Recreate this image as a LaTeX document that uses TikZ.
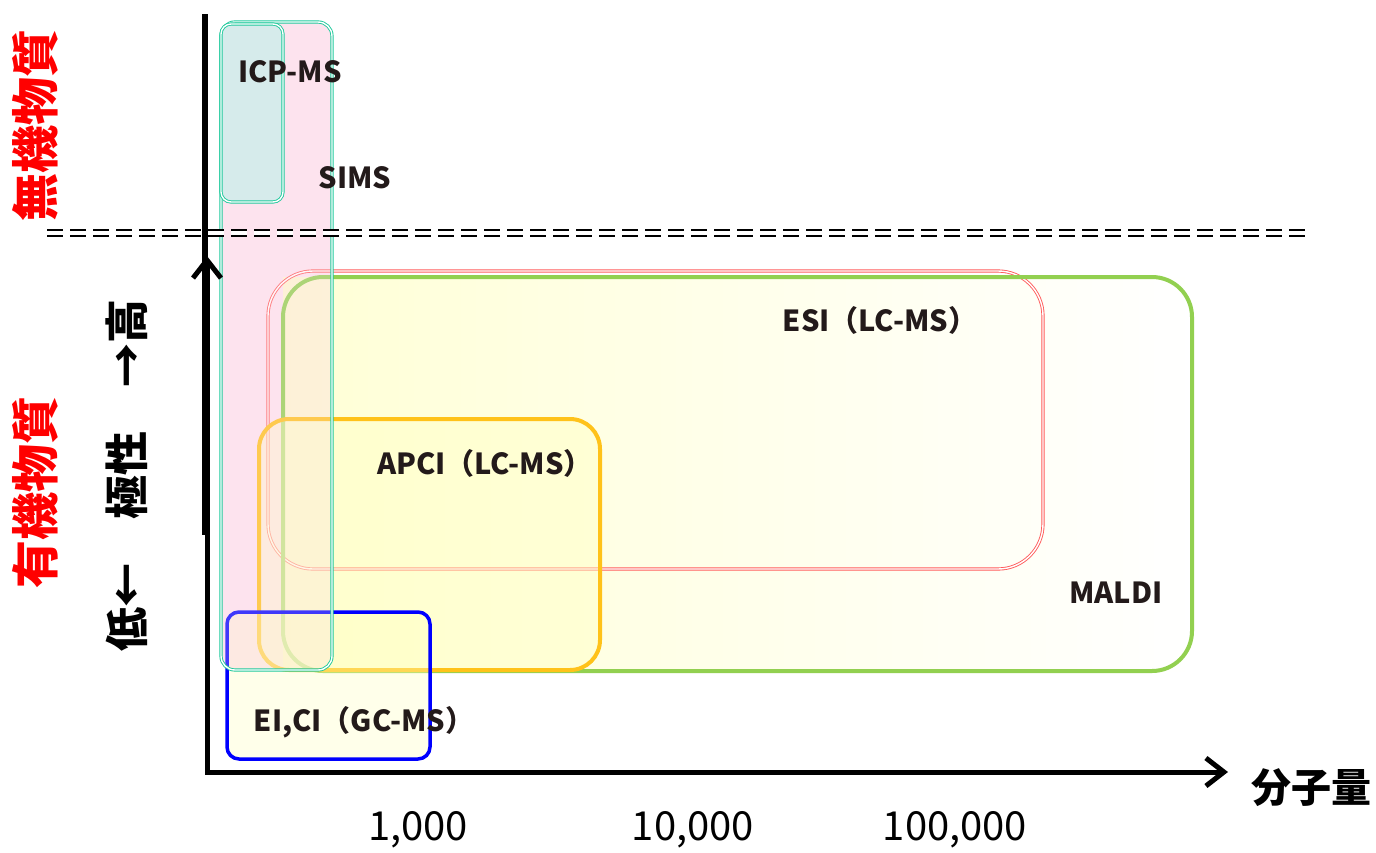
\documentclass[tikz,border=0pt]{standalone}
\usepackage{fontspec}
\setmainfont{Noto Sans CJK JP}
\usetikzlibrary{arrows.meta}
\definecolor{labred}{HTML}{FF0000}
\definecolor{simsteal}{HTML}{1FC99C}
\definecolor{simspink}{HTML}{FDE3EE}
\definecolor{icpfill}{HTML}{D6EBEB}
\definecolor{esired}{HTML}{FF5C5C}
\definecolor{maldigreen}{HTML}{92D050}
\definecolor{apciorange}{HTML}{FFC21A}
\definecolor{eiblue}{HTML}{0000FF}
\definecolor{paleyellow}{HTML}{FFFFC4}
\definecolor{labelink}{HTML}{231A1A}

\begin{document}
\begin{tikzpicture}[x=1pt,y=-1pt,every node/.style={font=\bfseries},lbl/.style={font=\bfseries\fontsize{29}{32}\selectfont,text=labelink,inner sep=0pt},side/.style={font=\bfseries\fontsize{48}{52}\selectfont,text=labred,rotate=90,inner sep=0pt},tick/.style={font=\fontsize{40}{44}\selectfont,inner sep=0pt},axis/.style={line width=5pt,-{Straight Barb[length=18pt,width=28pt,line width=5pt]}},twin/.style={double,double distance=1.4pt,line width=0.9pt}]
\useasboundingbox (0,0) rectangle (1376,852);
% ranges, back to front
\fill[simspink,rounded corners=14pt] (221,22) rectangle (332,670);
\shade[left color=paleyellow,right color=white,fill opacity=0.7] (283,277) rectangle (1192,671);
\draw[esired,twin,rounded corners=45pt] (268,271) rectangle (1043,569);
\draw[maldigreen,line width=4pt,rounded corners=40pt] (283,277) rectangle (1192,671);
\draw[apciorange,line width=4pt,rounded corners=30pt,fill=paleyellow,fill opacity=0.45] (259,419) rectangle (600,670);
\draw[eiblue,line width=3.5pt,rounded corners=12pt,fill=paleyellow,fill opacity=0.35] (227,612) rectangle (430,759);
\fill[simspink,rounded corners=14pt,opacity=0.25] (221,22) rectangle (332,670);
\draw[simsteal,twin,rounded corners=14pt] (221,22) rectangle (332,670);
\draw[simsteal,twin,rounded corners=10pt,fill=icpfill] (221,24) rectangle (283,202);
% separator
\draw[twin,double distance=3.5pt,line width=2pt,dash pattern=on 16pt off 7pt] (47,233) -- (1305,233);
% axes
\coordinate (origin) at (207,772);
\coordinate (ytop) at (207,256);
\coordinate (xend) at (1228,772);
\draw[line width=6pt] (205,14) -- (205,535);
\draw[axis] (origin) -- (ytop);
\draw[axis] (205,772) -- (xend);
% labels
\node[lbl] (icp) at (290,72) {ICP-MS};
\node[lbl] (sims) at (355,178) {SIMS};
\node[lbl] (esi) at (880,320) {ESI（LC-MS）};
\node[lbl] (apci) at (485,463) {APCI（LC-MS）};
\node[lbl] (maldi) at (1116,593) {MALDI};
\node[lbl] (eici) at (364,722) {EI,CI（GC-MS）};
\node[side] (inorg) at (35,125) {無機物質};
\node[side] (org) at (35,492) {有機物質};
\node[side,text=black,font=\bfseries\fontsize{44}{48}\selectfont] (polar) at (127,475) {低←　極性　→高};
\node[tick] (mw) at (1311,788) {\bfseries 分子量};
\node[tick] (k1) at (418,830) {1,000};
\node[tick] (k10) at (693,830) {10,000};
\node[tick] (k100) at (955,830) {100,000};
\end{tikzpicture}
\end{document}
